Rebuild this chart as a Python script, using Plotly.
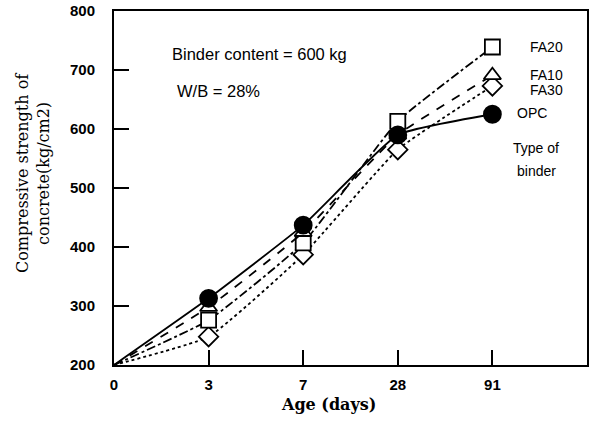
import plotly.graph_objects as go

ages = ["0", "3", "7", "28", "91"]
x_pos = [0, 1, 2, 3, 4]
opc = [200, 313, 437, 590, 625]
fa10 = [200, 298, 425, 590, 691]
fa20 = [200, 276, 407, 613, 739]
fa30 = [200, 248, 387, 565, 673]
y_ticks = [200, 300, 400, 500, 600, 700, 800]

fig = go.Figure()

def add(name, y, symbol, dash, fillcol, size):
    fig.add_trace(go.Scatter(
        x=x_pos, y=y, name=name, mode="lines",
        line=dict(color="black", width=1.8, dash=dash, shape="spline", smoothing=0.4),
        showlegend=False, hoverinfo="skip"))
    fig.add_trace(go.Scatter(
        x=x_pos[1:], y=y[1:], name=name, mode="markers",
        marker=dict(symbol=symbol, size=size, color=fillcol,
                    line=dict(color="black", width=1.8)),
        showlegend=False))

add("FA30", fa30, "diamond", "dot", "white", 15)
add("FA20", fa20, "square", "dashdot", "white", 15)
add("FA10", fa10, "triangle-up", "dash", "white", 15)
add("OPC", opc, "circle", "solid", "black", 17)

tickfont = dict(family="Liberation Sans", size=15, color="black", weight="bold")
fig.update_xaxes(range=[0, 5], tickvals=x_pos, ticktext=ages, automargin=False,
                 ticks="inside", ticklen=15, tickwidth=2, tickcolor="black",
                 showline=True, linewidth=2, linecolor="black", mirror=True,
                 showgrid=False, zeroline=False, tickfont=tickfont, ticklabelstandoff=5)
fig.update_yaxes(range=[200, 800], tickvals=y_ticks, automargin=False,
                 ticks="inside", ticklen=15, tickwidth=2, tickcolor="black",
                 showline=True, linewidth=2, linecolor="black", mirror=True,
                 showgrid=False, zeroline=False, tickfont=tickfont, ticklabelstandoff=14)

W = 594 - 114 - 7
H = 424 - 11 - 59
def px(xp): return (xp - 114) / W
def py(yp): return (365 - yp) / H

afont = dict(family="Liberation Sans", size=16.5, color="black")
lfont = dict(family="Liberation Sans", size=14, color="black")
def ann(text, x, y, xanchor="left", font=afont, angle=0):
    fig.add_annotation(text=text, xref="paper", yref="paper", x=x, y=y,
                       showarrow=False, font=font, xanchor=xanchor, yanchor="middle",
                       textangle=angle)

ann("Binder content = 600 kg", px(170), py(54))
ann("W/B = 28%", px(175), py(91))
ann("FA20", px(528), py(47), font=lfont)
ann("FA10", px(528), py(75), font=lfont)
ann("FA30", px(528), py(90), font=lfont)
ann("OPC", px(515), py(113), font=lfont)
ann("Type of", px(536), py(148), xanchor="center", font=lfont)
ann("binder", px(536), py(171), xanchor="center", font=lfont)

sfont = dict(family="DejaVu Serif", size=16, color="black")
ann("Compressive strength of<br>concrete(kg/cm2)", px(33), py(173), xanchor="center",
    font=sfont, angle=-90)
ann("<b>Age (days)</b>", px(328), py(404), xanchor="center", font=sfont)

fig.update_layout(width=594, height=424, margin=dict(l=114, r=7, t=11, b=59),
                  plot_bgcolor="white", paper_bgcolor="white")
fig.write_html("out.html", config={"displayModeBar": False},
               post_script="document.body.style.margin='0px';")
